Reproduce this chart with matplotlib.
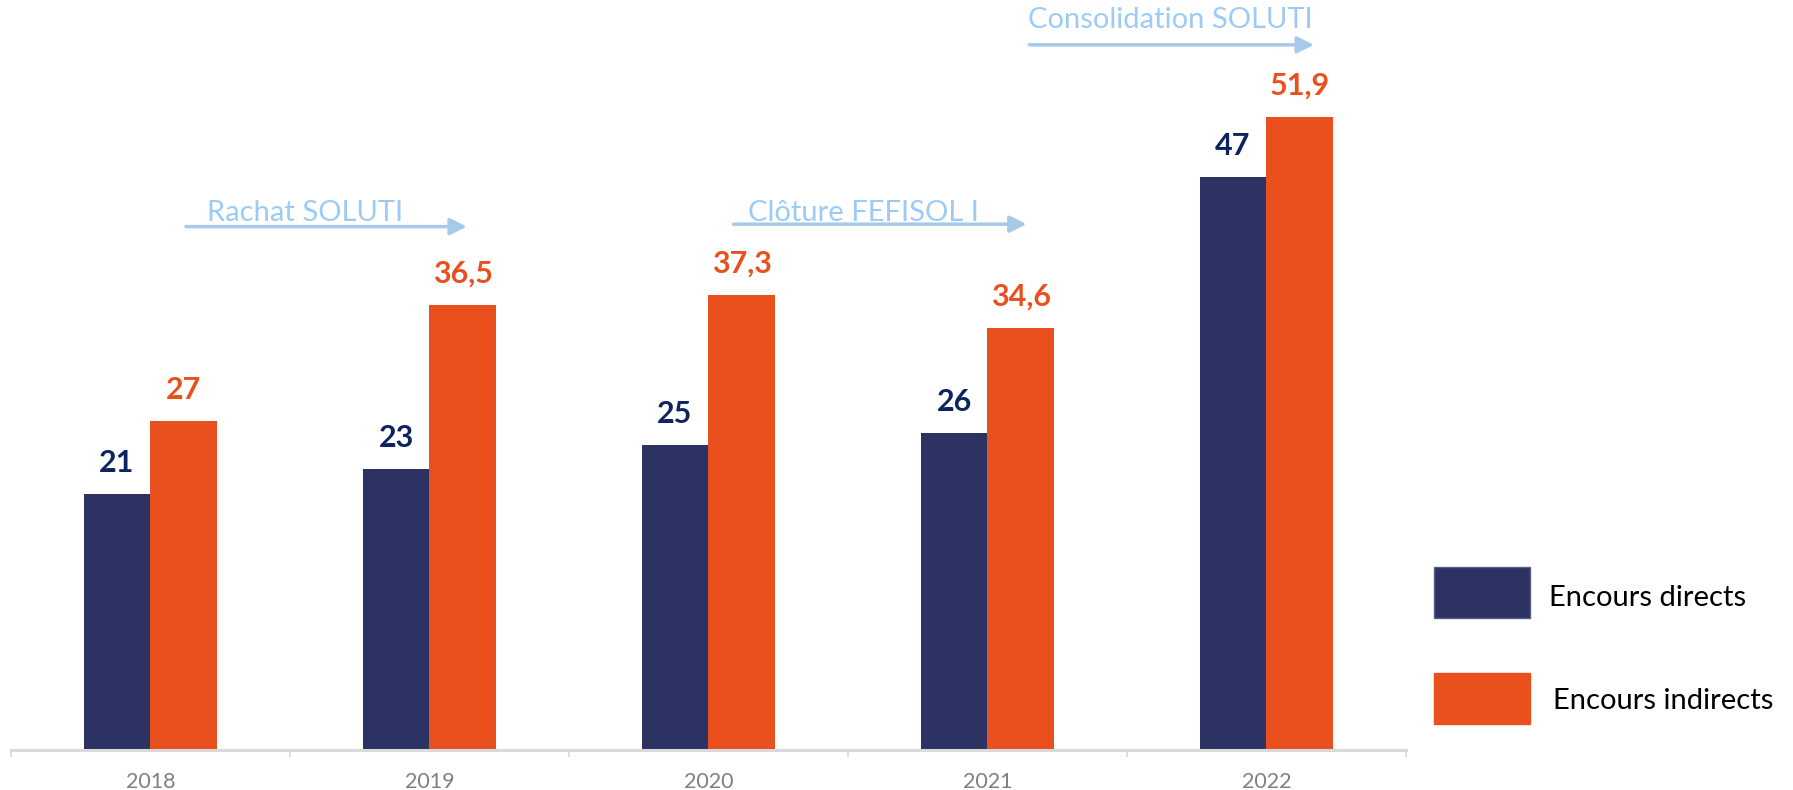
import numpy as np
import matplotlib
matplotlib.use("Agg")
import matplotlib.pyplot as plt
from matplotlib.patches import Rectangle

years = ["2018", "2019", "2020", "2021", "2022"]
directs = [21, 23, 25, 26, 47]
indirects = [27, 36.5, 37.3, 34.6, 51.9]
legend_labels = ["Encours directs", "Encours indirects"]
# (text, arrow start x, arrow end x, arrow y, text x, text baseline y) in data units
events = [
    ("Rachat SOLUTI", 0.127, 1.134, 42.9, 0.2025, 43.4),
    ("Clôture FEFISOL I", 2.09, 3.14, 43.1, 2.142, 43.4),
    ("Consolidation SOLUTI", 3.15, 4.17, 57.8, 3.145, 59.2),
]

NAVY = "#2C3262"
ORANGE = "#E9501E"
NAVY_TXT = "#0E2461"
ARROW = "#A6CAEA"
ANNOT = "#9CCBF6"

plt.rcParams["font.family"] = ["Lato", "DejaVu Sans"]

W, H = 1793, 790
fig = plt.figure(figsize=(W / 100, H / 100), dpi=100)
ax = fig.add_axes([11 / W, 40 / H, 1395 / W, 732 / H])

x = np.arange(len(years))
bw = 0.24
ax.bar(x - bw / 2, directs, bw, color=NAVY, zorder=2)
ax.bar(x + bw / 2, indirects, bw, color=ORANGE, zorder=2)

def fmt(v):
    return (f"{v:g}").replace(".", ",")

for xi, v in zip(x, directs):
    ax.annotate(fmt(v), (xi - bw / 2, v), xytext=(0, 31), textcoords="offset pixels",
                ha="center", va="center", fontsize=22, fontweight="bold", color=NAVY_TXT)
for xi, v in zip(x, indirects):
    ax.annotate(fmt(v), (xi + bw / 2, v), xytext=(0, 31), textcoords="offset pixels",
                ha="center", va="center", fontsize=22, fontweight="bold", color=ORANGE)

for txt, x0, x1, ya, xt, yt in events:
    ax.annotate("", xy=(x1, ya), xytext=(x0, ya),
                arrowprops=dict(arrowstyle="-|>", color=ARROW, lw=2.5, mutation_scale=25,
                                shrinkA=0, shrinkB=0), annotation_clip=False)
    ax.text(xt, yt, txt, ha="left", va="baseline", fontsize=21, color=ANNOT, clip_on=False)

ax.set_xlim(-0.5, len(years) - 0.5)
ax.set_ylim(0, 60)
for s in ["top", "right", "left"]:
    ax.spines[s].set_visible(False)
ax.spines["bottom"].set_color("#D9D9D9")
ax.spines["bottom"].set_linewidth(2.2)
ax.set_yticks([])
ax.set_xticks(x)
ax.set_xticklabels(years, fontsize=15.5, color="#808080")
ax.tick_params(axis="x", which="major", length=0, pad=16)
ax.set_xticks(np.arange(-0.5, len(years)), minor=True)
ax.tick_params(axis="x", which="minor", length=5, width=1.2, color="#D9D9D9")

# legend drawn by hand (pixel positions from top-left)
leg = [(567, NAVY, "#5B5F85", 598, 1549), (673, ORANGE, ORANGE, 701, 1553)]
for (ytop, fc, ec, ytxt, xtxt), lab in zip(leg, legend_labels):
    fig.patches.append(Rectangle((1434 / W, 1 - (ytop + 51) / H), 96 / W, 51 / H,
                                 transform=fig.transFigure, facecolor=fc, edgecolor=ec, lw=1))
    fig.text(xtxt / W, 1 - ytxt / H, lab, ha="left", va="center", fontsize=21, color="black")

fig.savefig("out.png", dpi=100, facecolor="white")
